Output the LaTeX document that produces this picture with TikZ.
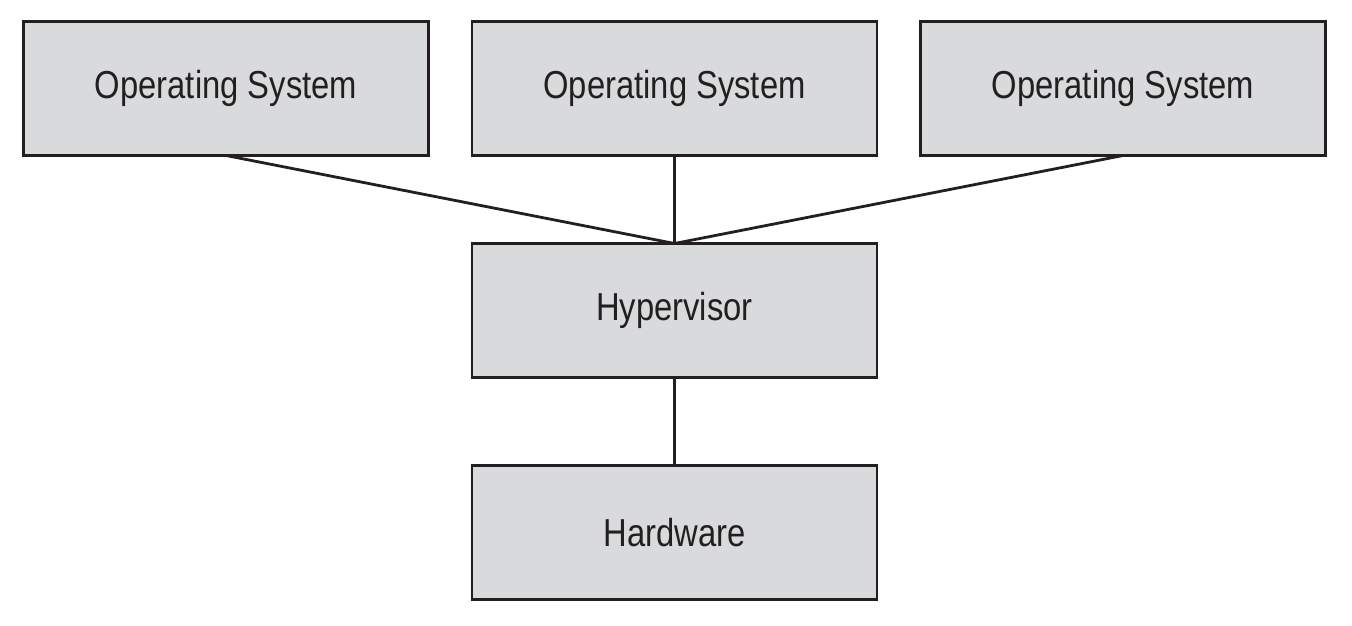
\documentclass[tikz,border=0pt]{standalone}
\usepackage{fontspec}
\setmainfont[FakeStretch=0.84]{Liberation Sans}
\definecolor{boxfill}{HTML}{D9DADC}
\definecolor{ink}{HTML}{231F20}
\begin{document}
\begin{tikzpicture}[x=1pt,y=-1pt,
  layerbox/.style={draw=ink, fill=boxfill, line width=2.6pt, minimum width=405pt,
    minimum height=134pt, inner sep=0pt, outer sep=0pt, text=ink,
    font=\fontsize{39}{44}\selectfont},
  link/.style={draw=ink, line width=2.8pt}]
\useasboundingbox (0,0) rectangle (1352,626);
\node[layerbox] (os1) at (226,88.5) {Operating System};
\node[layerbox] (os2) at (674.5,88.5) {Operating System};
\node[layerbox] (os3) at (1123,88.5) {Operating System};
\node[layerbox] (hyp) at (674.5,310.5) {Hypervisor};
\node[layerbox] (hw) at (674.5,532.5) {Hardware};
\draw[link] (os1.south) -- (hyp.north);
\draw[link] (os2.south) -- (hyp.north);
\draw[link] (os3.south) -- (hyp.north);
\draw[link] (hyp.south) -- (hw.north);
\end{tikzpicture}
\end{document}
